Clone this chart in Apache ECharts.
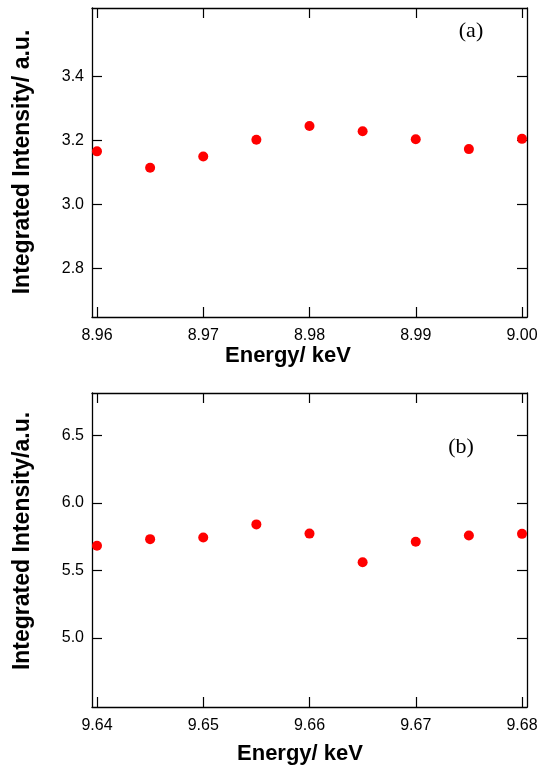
<!DOCTYPE html>
<html>
<head>
<meta charset="utf-8">
<script src="https://cdn.jsdelivr.net/npm/echarts@6/dist/echarts.min.js"></script>
<style>
  html, body { margin: 0; padding: 0; background: #fff; }
  #chart { width: 547px; height: 767px; }
</style>
</head>
<body>
<div id="chart"></div>
<script>
// Panel (a)
const energyA = [8.960, 8.965, 8.970, 8.975, 8.980, 8.985, 8.990, 8.995, 9.000];
const intensityA = [3.166, 3.115, 3.150, 3.202, 3.245, 3.229, 3.204, 3.173, 3.205];
const xTicksA = [8.96, 8.97, 8.98, 8.99, 9.00];
const yTicksA = [2.8, 3.0, 3.2, 3.4];

// Panel (b)
const energyB = [9.640, 9.645, 9.650, 9.655, 9.660, 9.665, 9.670, 9.675, 9.680];
const intensityB = [5.683, 5.732, 5.744, 5.841, 5.773, 5.561, 5.712, 5.759, 5.771];
const xTicksB = [9.64, 9.65, 9.66, 9.67, 9.68];
const yTicksB = [5.0, 5.5, 6.0, 6.5];

const labelFont = 'Liberation Sans, Arial, Helvetica, sans-serif';

function mkX(grid, pos, min, max, ticks, showLabel, margin) {
  return {
    type: 'value', gridIndex: grid, position: pos, min: min, max: max,
    splitLine: { show: false },
    axisLine: { show: true, onZero: false, lineStyle: { color: '#000', width: 1.3 } },
    axisTick: { show: true, inside: true, length: 10, customValues: ticks, lineStyle: { color: '#000', width: 1.2 } },
    axisLabel: { show: showLabel, customValues: ticks, formatter: v => v.toFixed(2), margin: margin,
      color: '#000', fontSize: 16, fontFamily: labelFont }
  };
}
function mkY(grid, pos, min, max, ticks, showLabel) {
  return {
    type: 'value', gridIndex: grid, position: pos, min: min, max: max,
    splitLine: { show: false },
    axisLine: { show: true, onZero: false, lineStyle: { color: '#000', width: 1.3 } },
    axisTick: { show: true, inside: true, length: 10, customValues: ticks, lineStyle: { color: '#000', width: 1.2 } },
    axisLabel: { show: showLabel, customValues: ticks, formatter: v => v.toFixed(1), margin: 8,
      color: '#000', fontSize: 16, fontFamily: labelFont }
  };
}

const chart = echarts.init(document.getElementById('chart'), null, { renderer: 'canvas' });
chart.setOption({
  backgroundColor: '#fff',
  animation: false,
  grid: [
    { left: 92, top: 8, width: 435, height: 309 },
    { left: 92, top: 393, width: 435, height: 314 }
  ],
  xAxis: [
    mkX(0, 'bottom', 8.95953, 9.00047, xTicksA, true, 11),
    mkX(0, 'top', 8.95953, 9.00047, xTicksA, false, 8),
    mkX(1, 'bottom', 9.63953, 9.68047, xTicksB, true, 11),
    mkX(1, 'top', 9.63953, 9.68047, xTicksB, false, 8)
  ],
  yAxis: [
    mkY(0, 'left', 2.649, 3.6135, yTicksA, true),
    mkY(0, 'right', 2.649, 3.6135, yTicksA, false),
    mkY(1, 'left', 4.489, 6.814, yTicksB, true),
    mkY(1, 'right', 4.489, 6.814, yTicksB, false)
  ],
  series: [
    {
      type: 'scatter', xAxisIndex: 0, yAxisIndex: 0, symbolSize: 10,
      itemStyle: { color: '#ff0000', opacity: 1 },
      data: energyA.map((e, i) => [e, intensityA[i]])
    },
    {
      type: 'scatter', xAxisIndex: 2, yAxisIndex: 2, symbolSize: 10,
      itemStyle: { color: '#ff0000', opacity: 1 },
      data: energyB.map((e, i) => [e, intensityB[i]])
    }
  ],
  graphic: [
    { type: 'text', x: 23, y: 162, rotation: Math.PI / 2,
      style: { text: 'Integrated Intensity/ a.u.', font: 'bold 23px ' + labelFont, fill: '#000', align: 'center', verticalAlign: 'middle' } },
    { type: 'text', x: 288, y: 356,
      style: { text: 'Energy/ keV', font: 'bold 22px ' + labelFont, fill: '#000', align: 'center', verticalAlign: 'middle' } },
    { type: 'text', x: 23, y: 541, rotation: Math.PI / 2,
      style: { text: 'Integrated Intensity/a.u.', font: 'bold 23px ' + labelFont, fill: '#000', align: 'center', verticalAlign: 'middle' } },
    { type: 'text', x: 300, y: 754,
      style: { text: 'Energy/ keV', font: 'bold 22px ' + labelFont, fill: '#000', align: 'center', verticalAlign: 'middle' } },
    { type: 'text', x: 471, y: 31,
      style: { text: '(a)', font: '22px Liberation Serif, Times New Roman, serif', fill: '#000', align: 'center', verticalAlign: 'middle' } },
    { type: 'text', x: 461, y: 447,
      style: { text: '(b)', font: '22px Liberation Serif, Times New Roman, serif', fill: '#000', align: 'center', verticalAlign: 'middle' } }
  ]
});
</script>
</body>
</html>
